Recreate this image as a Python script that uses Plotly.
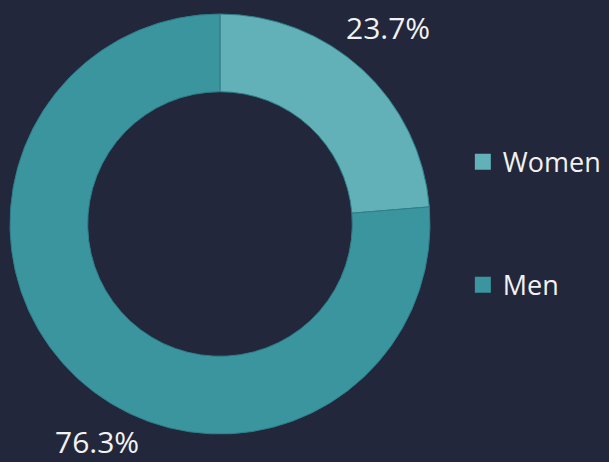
import plotly.graph_objects as go

labels = ["Women", "Men"]
values = [23.7, 76.3]
colors = ["#62b0b8", "#3a959f"]
label_pos = [(0.637, 0.94), (0.159, 0.045)]  # annotation anchor (paper coords)

BG = "#23273b"
W, H = 609, 462

fig = go.Figure()
fig.add_trace(go.Pie(
    labels=labels, values=values, hole=0.63, sort=False,
    direction="clockwise", rotation=0,
    marker=dict(colors=colors, line=dict(color="#2e8089", width=1)),
    textinfo="none", hoverinfo="label+percent", showlegend=False,
    domain=dict(x=[10 / W, 430 / W], y=[1 - 434 / H, 1 - 14 / H]),
))

# legend entries via invisible markers
for lab, col in zip(labels, colors):
    fig.add_trace(go.Scatter(
        x=[None], y=[None], mode="markers", name=lab, legendgroup=lab,
        marker=dict(symbol="square", size=16, color=col),
    ))

total = sum(values)
for v, (ax_, ay_) in zip(values, label_pos):
    fig.add_annotation(
        x=ax_, y=ay_, xref="paper", yref="paper", showarrow=False,
        text=f"{v / total * 100:.1f}%",
        font=dict(family="Open Sans", size=30, color="#f2f2f2"),
        xanchor="center", yanchor="middle",
    )

fig.update_layout(
    width=W, height=H, margin=dict(l=0, r=0, t=0, b=0),
    paper_bgcolor=BG, plot_bgcolor=BG,
    xaxis=dict(visible=False), yaxis=dict(visible=False),
    legend=dict(
        x=0.760, y=0.702, xanchor="left", yanchor="top",
        font=dict(family="Open Sans", size=27, color="#f2f2f2"),
        traceorder="grouped", tracegroupgap=85, itemsizing="trace",
        bgcolor="rgba(0,0,0,0)",
    ),
)

fig.write_html("out.html")
